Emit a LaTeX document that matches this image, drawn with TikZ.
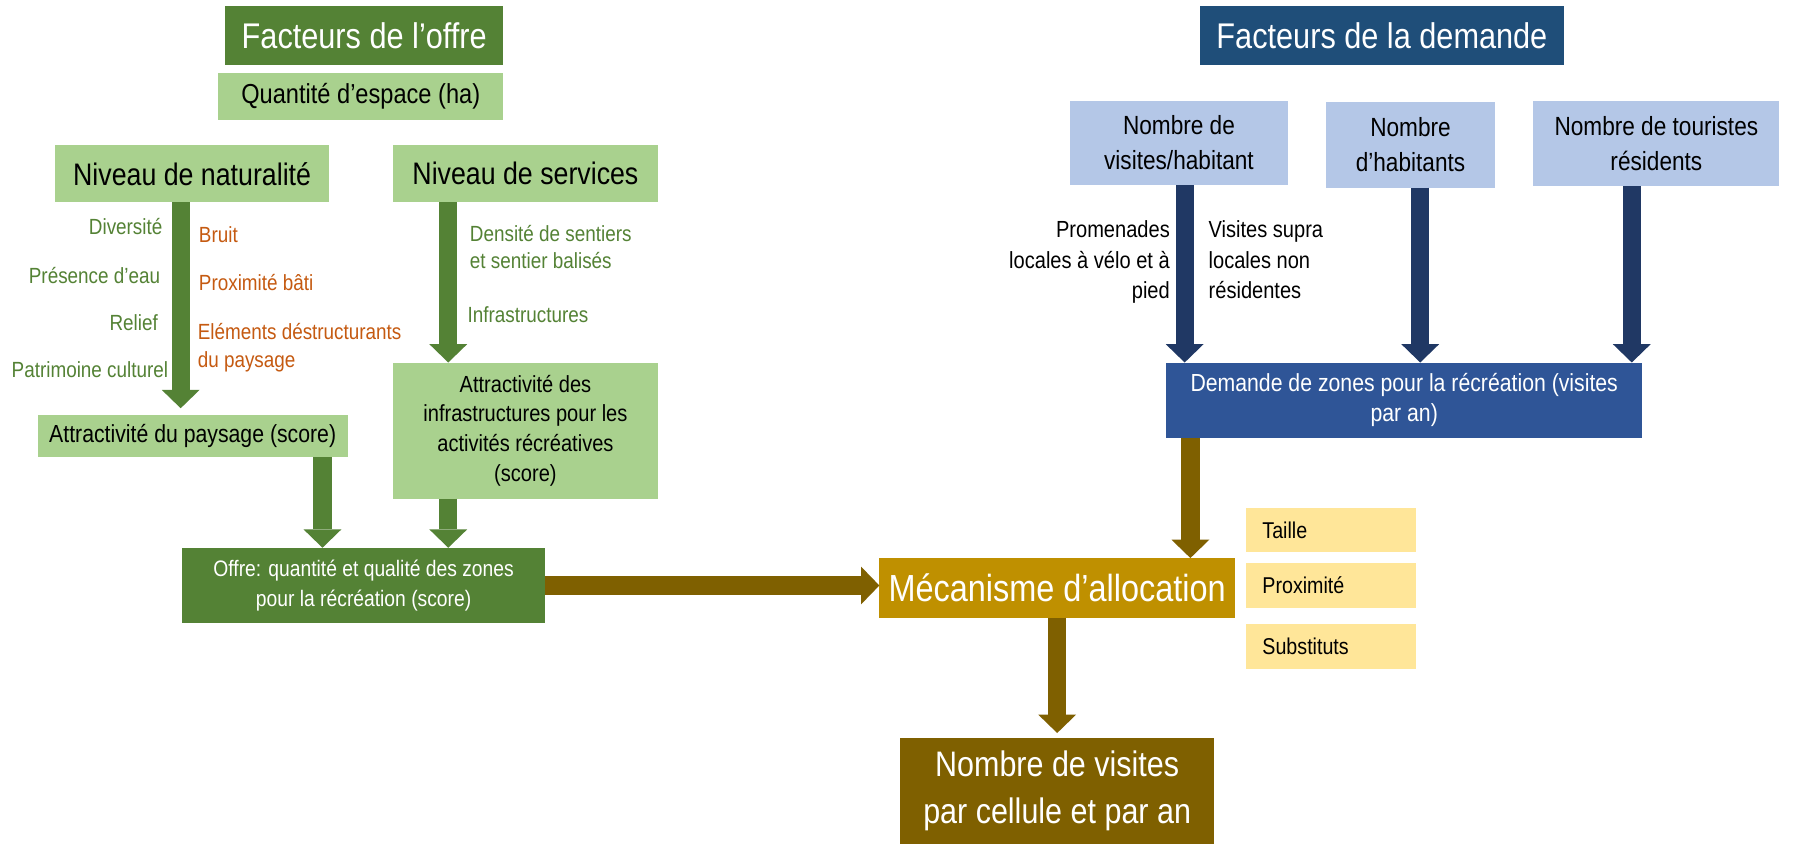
\documentclass[tikz,border=0pt]{standalone}
\usepackage{fontspec}
\setmainfont{Liberation Sans}[FakeStretch=0.86]
\usetikzlibrary{arrows.meta}
\definecolor{dgreen}{HTML}{548235}
\definecolor{lgreen}{HTML}{A9D18E}
\definecolor{ortext}{HTML}{C55A11}
\definecolor{dblue}{HTML}{1F4E79}
\definecolor{lblue}{HTML}{B4C7E7}
\definecolor{navyarr}{HTML}{203864}
\definecolor{mblue}{HTML}{2F5597}
\definecolor{olivebrown}{HTML}{7F6000}
\definecolor{goldbox}{HTML}{BF9000}
\definecolor{pyellow}{HTML}{FFE699}
\newcommand\fsz[2]{\fontsize{#1}{#2}\selectfont}
\begin{document}
\begin{tikzpicture}[x=0.5pt,y=-0.5pt,
  box/.style={inner sep=0pt, outer sep=0pt, align=center},
  ybox/.style={box, fill=pyellow, minimum width=74pt, text width=60pt, inner xsep=7pt, align=left, font=\fsz{10}{12}},
  blk/.style={line width=8pt, -{Triangle[width=16.5pt,length=8pt,line width=0pt]}},
  lbl/.style={inner sep=0pt, outer sep=0pt, font=\fsz{9.6}{12}},
  lblb/.style={inner sep=0pt, outer sep=0pt, font=\fsz{10.2}{13.25}},
]
\fill[white] (0,0) rectangle (1568,752);
\path[use as bounding box] (0,0) rectangle (1568,752);

% supply side
\node[box, fill=dgreen, text=white, minimum width=121.5pt, minimum height=26pt, font=\fsz{15.6}{18}] (titleO) at (318.5,31) {Facteurs de l’offre};
\node[box, fill=lgreen, minimum width=124.5pt, minimum height=20.5pt, font=\fsz{12}{14}] (quant) at (315.5,84.5) {Quantité d’espace (ha)};
\node[box, fill=lgreen, minimum width=120pt, minimum height=25pt, font=\fsz{13.6}{16}] (nat) at (168,152) {Niveau de naturalité};
\node[box, fill=lgreen, minimum width=115.5pt, minimum height=25pt, font=\fsz{13.6}{16}] (serv) at (459.5,152) {Niveau de services};
\node[box, fill=lgreen, minimum width=135.5pt, minimum height=18.5pt, font=\fsz{10.8}{13}] (pays) at (168.5,381.5) {Attractivité du paysage (score)};
\node[box, fill=lgreen, minimum width=115.5pt, minimum height=59.5pt, font=\fsz{10.2}{13}] (infra) at (459.5,376.5) {Attractivité des\\infrastructures pour les\\activités récréatives\\(score)};
\node[box, fill=dgreen, text=white, minimum width=159pt, minimum height=33pt, font=\fsz{9.8}{13}] (offre) at (318,512) {Offre: quantité et qualité des zones\\pour la récréation (score)};

% labels of naturalite
\node[lbl, text=dgreen, anchor=base east] (ldiv) at (142,205) {Diversité};
\node[lbl, text=dgreen, anchor=base east] (leau) at (140,248) {Présence d’eau};
\node[lbl, text=dgreen, anchor=base east] (lrel) at (138,289) {Relief};
\node[lbl, text=dgreen, anchor=base east] (lpat) at (147,330) {Patrimoine culturel};
\node[lbl, text=ortext, anchor=base west] (lbru) at (174,212) {Bruit};
\node[lbl, text=ortext, anchor=base west] (lpro) at (174,254) {Proximité bâti};
\node[lbl, text=ortext, anchor=base west, align=left] (lele) at (173,321) {Eléments déstructurants\\du paysage};
% labels of services
\node[lbl, text=dgreen, anchor=base west, align=left] (lden) at (411,235) {Densité de sentiers\\et sentier balisés};
\node[lbl, text=dgreen, anchor=base west] (linf) at (409,282) {Infrastructures};

% allocation
\node[box, fill=goldbox, text=white, minimum width=155.5pt, minimum height=26pt, font=\fsz{16.5}{19}] (meca) at (924.5,514) {Mécanisme d’allocation};
\node[box, fill=olivebrown, text=white, minimum width=137.5pt, minimum height=46.5pt, font=\fsz{15.5}{20.5}] (res) at (924.5,691.5) {Nombre de visites\\par cellule et par an};
\node[ybox, minimum height=19.5pt] (taille) at (1164,463.5) {Taille};
\node[ybox, minimum height=20pt] (proxi) at (1164,512) {Proximité};
\node[ybox, minimum height=19.5pt] (subst) at (1164,565.5) {Substituts};

% demand side
\node[box, fill=dblue, text=white, minimum width=159.5pt, minimum height=26pt, font=\fsz{15.6}{18}] (titleD) at (1208.5,31) {Facteurs de la demande};
\node[box, fill=lblue, minimum width=95pt, minimum height=37pt, font=\fsz{11.5}{15.3}] (vis) at (1031,125) {Nombre de\\visites/habitant};
\node[box, fill=lblue, minimum width=73.5pt, minimum height=37.5pt, font=\fsz{11.5}{15.3}] (hab) at (1233.5,126.5) {Nombre\\d’habitants};
\node[box, fill=lblue, minimum width=107.5pt, minimum height=37.5pt, font=\fsz{11.5}{15.3}] (tour) at (1448.5,125.5) {Nombre de touristes\\résidents};
\node[box, fill=mblue, text=white, minimum width=208pt, minimum height=33pt, font=\fsz{10.8}{13}] (dem) at (1228,350) {Demande de zones pour la récréation (visites\\par an)};
\node[lblb, anchor=base east, align=right] (lprom) at (1023,261) {Promenades\\locales à vélo et à\\pied};
\node[lblb, anchor=base west, align=left] (lsupra) at (1057,261) {Visites supra\\locales non\\résidentes};

% arrows
\draw[blk, dgreen, shorten >=3pt] (nat.south -| 158,0) -- (pays.north -| 158,0);
\draw[blk, dgreen] (serv.south -| 392,0) -- (infra.north -| 392,0);
\draw[blk, dgreen] (pays.south -| 282,0) -- (offre.north -| 282,0);
\draw[blk, dgreen] (infra.south -| 392,0) -- (offre.north -| 392,0);
\draw[blk, olivebrown] (offre.east) -- (offre.east -| meca.west);
\draw[blk, olivebrown] (dem.south -| 1041,0) -- (meca.north -| 1041,0);
\draw[blk, olivebrown, shorten >=2pt] (meca.south) -- (res.north);
\draw[blk, navyarr] (vis.south -| 1036,0) -- (dem.north -| 1036,0);
\draw[blk, navyarr] (hab.south -| 1242,0) -- (dem.north -| 1242,0);
\draw[blk, navyarr] (tour.south -| 1427,0) -- (dem.north -| 1427,0);
\end{tikzpicture}
\end{document}
